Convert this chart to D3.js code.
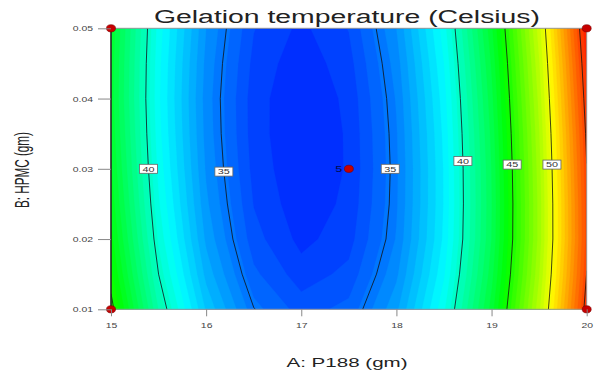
<!DOCTYPE html>
<html>
<head>
<meta charset="utf-8">
<script src="https://d3js.org/d3.v7.min.js"></script>
<style>
    body { margin: 0; background: #fff; }
    text { font-family: Arial, "Liberation Sans", sans-serif; }
    .tick text { fill: #444; font-size: 8px; }
    .tick line { stroke: #888; }
</style>
</head>
<body>
<svg width="594" height="373"></svg>
<script>
    // factor levels on the grid
    const aVals = [15, 15.5, 16, 16.5, 17, 17.5, 18, 18.5, 19, 19.5, 20];
    const bVals = [0.01, 0.015, 0.02, 0.025, 0.03, 0.035, 0.04, 0.045, 0.05];

    // gelation temperature, one row per HPMC level
    const tempB010 = [45.28, 40.60, 37.18, 35.03, 34.15, 34.52, 36.17, 39.08, 43.25, 48.69, 55.40];
    const tempB015 = [44.65, 40.00, 36.61, 34.48, 33.62, 34.03, 35.70, 38.63, 42.83, 48.29, 55.02];
    const tempB020 = [44.18, 39.55, 36.18, 34.08, 33.25, 33.68, 35.37, 38.33, 42.56, 48.05, 54.80];
    const tempB025 = [43.84, 39.25, 35.92, 33.86, 33.06, 33.53, 35.26, 38.26, 42.52, 48.05, 54.84];
    const tempB030 = [43.58, 39.03, 35.74, 33.72, 32.96, 33.46, 35.23, 38.27, 42.57, 48.14, 54.97];
    const tempB035 = [43.40, 38.88, 35.63, 33.64, 32.92, 33.47, 35.28, 38.35, 42.69, 48.29, 55.16];
    const tempB040 = [43.27, 38.80, 35.58, 33.63, 32.95, 33.53, 35.38, 38.49, 42.87, 48.51, 55.42];
    const tempB045 = [43.30, 38.85, 35.66, 33.74, 33.08, 33.69, 35.56, 38.70, 43.10, 48.77, 55.70];
    const tempB050 = [43.40, 38.97, 35.81, 33.91, 33.28, 33.91, 35.81, 38.97, 43.40, 49.09, 56.05];

    // contour levels drawn as lines, and where their labels sit
    const lineLevels = [35, 40, 45, 50, 55];
    const labelLevels = [40, 35, 35, 40, 45, 50];
    const labelNth = [0, 0, 1, 1, 0, 0];
    const labelB = [0.030, 0.0296, 0.030, 0.0311, 0.0306, 0.0306];

    // design points
    const designA = [15, 15, 20, 20, 17.5];
    const designB = [0.01, 0.05, 0.05, 0.01, 0.03];
    const centerCount = "5";

    const svg = d3.select("svg");
    const x = d3.scaleLinear().domain([15, 20]).range([111, 586.7]);
    const y = d3.scaleLinear().domain([0.01, 0.05]).range([309.3, 28.3]);

    const nx = aVals.length, ny = bVals.length;
    const values = [].concat(tempB010, tempB015, tempB020, tempB025, tempB030,
                             tempB035, tempB040, tempB045, tempB050);
    const aStep = aVals[1] - aVals[0], bStep = bVals[1] - bVals[0];

    // grid coords (sample i sits at i + 0.5) -> pixels
    const gx = u => x(aVals[0] + (u - 0.5) * aStep);
    const gy = v => y(bVals[0] + (v - 0.5) * bStep);
    const path = d3.geoPath(d3.geoTransform({
        point: function (u, v) { this.stream.point(gx(u), gy(v)); }
    }));

    svg.append("clipPath").attr("id", "plotClip")
        .append("rect")
        .attr("x", x(15)).attr("y", y(0.05))
        .attr("width", x(20) - x(15)).attr("height", y(0.01) - y(0.05));

    const plot = svg.append("g").attr("clip-path", "url(#plotClip)");

    // colour bands
    const lo = d3.min(values), hi = d3.max(values);
    const color = d3.scaleLinear()
        .domain([0, 0.25, 0.5, 0.75, 1].map(t => lo + t * (hi - lo)))
        .range(["#0026ff", "#00ffff", "#00ff00", "#ffff00", "#ff1a00"]);
    const nBands = 48;
    const step = (hi - lo) / nBands;
    const bandThresholds = d3.range(nBands).map(i => lo + i * step);
    bandThresholds[0] = lo - 1;

    const bands = d3.contours().size([nx, ny]).thresholds(bandThresholds)(values);
    plot.selectAll("path.band")
        .data(bands)
        .enter().append("path")
        .attr("class", "band")
        .attr("d", path)
        .attr("fill", d => color(Math.max(lo, d.value) + step / 2))
        .attr("stroke", d => color(Math.max(lo, d.value) + step / 2))
        .attr("stroke-width", 0.3);

    // contour lines
    const lines = d3.contours().size([nx, ny]).thresholds(lineLevels)(values);
    plot.selectAll("path.cline")
        .data(lines)
        .enter().append("path")
        .attr("class", "cline")
        .attr("d", path)
        .attr("fill", "none")
        .attr("stroke", "#111")
        .attr("stroke-width", 0.8);

    // frame
    svg.append("rect")
        .attr("x", x(15)).attr("y", y(0.05))
        .attr("width", x(20) - x(15)).attr("height", y(0.01) - y(0.05))
        .attr("fill", "none").attr("stroke", "#999").attr("stroke-width", 1);
    svg.append("line")
        .attr("x1", x(15)).attr("x2", x(15)).attr("y1", y(0.05)).attr("y2", y(0.01))
        .attr("stroke", "#000").attr("stroke-width", 1.2);

    // contour labels: find where each line crosses the label's row
    function crossings(level, py) {
        const c = lines.find(d => d.value === level);
        const xs = [];
        c.coordinates.forEach(poly => poly.forEach(ring => {
            for (let k = 0; k < ring.length - 1; k++) {
                const x1 = gx(ring[k][0]), y1 = gy(ring[k][1]);
                const x2 = gx(ring[k + 1][0]), y2 = gy(ring[k + 1][1]);
                if ((y1 <= py && y2 > py) || (y2 <= py && y1 > py)) {
                    const t = (py - y1) / (y2 - y1);
                    const cx = x1 + t * (x2 - x1);
                    if (cx > x(15) + 1 && cx < x(20) - 1) xs.push(cx);
                }
            }
        }));
        return xs.sort((a, b) => a - b);
    }

    labelLevels.forEach((lev, i) => {
        const py = y(labelB[i]);
        const px = crossings(lev, py)[labelNth[i]];
        if (px === undefined) return;
        const g = svg.append("g").attr("transform", `translate(${px},${py})`);
        g.append("rect")
            .attr("x", -9).attr("y", -4.5).attr("width", 18).attr("height", 9)
            .attr("fill", "#fff").attr("stroke", "#666").attr("stroke-width", 0.8);
        g.append("text")
            .attr("text-anchor", "middle").attr("dy", "0.35em")
            .attr("font-size", "8px").attr("fill", "#333")
            .attr("textLength", 12).attr("lengthAdjust", "spacingAndGlyphs")
            .text(lev);
    });

    // design points
    svg.selectAll("ellipse.pt")
        .data(designA.map((a, i) => [a, designB[i]]))
        .enter().append("ellipse")
        .attr("class", "pt")
        .attr("cx", d => x(d[0])).attr("cy", d => y(d[1]))
        .attr("rx", 4.5).attr("ry", 3.6)
        .attr("fill", "#c80000").attr("stroke", "#7a0000").attr("stroke-width", 0.6);
    svg.append("text")
        .attr("x", x(17.5) - 10).attr("y", y(0.03))
        .attr("dy", "0.35em").attr("text-anchor", "middle")
        .attr("font-size", "9px").attr("fill", "#000c50")
        .attr("textLength", 7).attr("lengthAdjust", "spacingAndGlyphs")
        .text(centerCount);

    // axes
    const yAxis = d3.axisLeft(y).tickValues([0.01, 0.02, 0.03, 0.04, 0.05]).tickFormat(d3.format(".2f"))
        .tickSize(13).tickPadding(5);
    svg.append("g").attr("transform", `translate(${x(15)},0)`).call(yAxis)
        .call(g => g.select(".domain").remove());

    const xAxis = d3.axisBottom(x).tickValues([15, 16, 17, 18, 19, 20]).tickFormat(d3.format("d"))
        .tickSize(7).tickPadding(6);
    svg.append("g").attr("transform", `translate(0,${y(0.01)})`).call(xAxis)
        .call(g => g.select(".domain").remove());

    // the reference is stretched sideways: widen the tick labels to match
    svg.selectAll(".tick text").each(function () {
        const w = this.getComputedTextLength();
        d3.select(this).attr("textLength", w * 1.3).attr("lengthAdjust", "spacingAndGlyphs");
    });

    // titles
    svg.append("text")
        .attr("x", 347).attr("y", 23)
        .attr("text-anchor", "middle")
        .attr("font-size", "18px").attr("fill", "#222")
        .attr("textLength", 386).attr("lengthAdjust", "spacingAndGlyphs")
        .text("Gelation temperature (Celsius)");

    svg.append("text")
        .attr("x", 347).attr("y", 367)
        .attr("text-anchor", "middle")
        .attr("font-size", "12.5px").attr("fill", "#222")
        .attr("textLength", 121).attr("lengthAdjust", "spacingAndGlyphs")
        .text("A: P188 (gm)");

    svg.append("text")
        .attr("transform", "translate(29,170) scale(1.45,1) rotate(-90)")
        .attr("text-anchor", "middle")
        .attr("font-size", "13.5px").attr("fill", "#222")
        .attr("textLength", 76).attr("lengthAdjust", "spacingAndGlyphs")
        .text("B: HPMC (gm)");
</script>
</body>
</html>
